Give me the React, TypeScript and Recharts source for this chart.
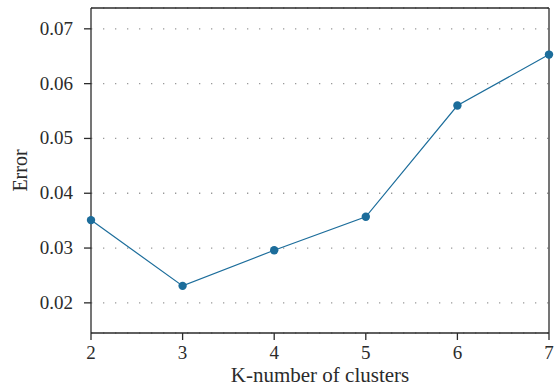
import React from "react";
import {
  LineChart,
  Line,
  XAxis,
  YAxis,
  CartesianGrid,
  ReferenceLine,
} from "recharts";

const clusters = [2, 3, 4, 5, 6, 7];
const errors = [0.0351, 0.0231, 0.0296, 0.0357, 0.056, 0.0653];
const yTicks = [0.02, 0.03, 0.04, 0.05, 0.06, 0.07];
const yMin = 0.0145;
const yMax = 0.0738;

const data = clusters.map((k, i) => ({ k, error: errors[i] }));

const font = "Liberation Serif";
const ink = "#2b2b2b";
const blue = "#1c6d9b";

const XTick = (props: any) => {
  const { x, y, payload } = props;
  return (
    <text
      x={x}
      y={y + 18}
      textAnchor="middle"
      fill={ink}
      fontSize={19}
      fontFamily={font}
    >
      {payload.value}
    </text>
  );
};

const YTick = (props: any) => {
  const { x, y, payload } = props;
  return (
    <text
      x={x}
      y={y + 6}
      textAnchor="end"
      fill={ink}
      fontSize={19}
      fontFamily={font}
    >
      {Number(payload.value).toFixed(2)}
    </text>
  );
};

const App: React.FC = () => {
  return (
    <div
      style={{
        position: "absolute",
        left: 0,
        top: 0,
        width: 556,
        height: 387,
        background: "#fff",
      }}
    >
      <LineChart
        width={556}
        height={387}
        data={data}
        margin={{ top: 8, right: 7, left: 0, bottom: 0 }}
      >
        <CartesianGrid
          vertical={false}
          stroke="#999"
          strokeWidth={1.3}
          strokeDasharray="1.3 10.7"
        />
        <XAxis
          dataKey="k"
          type="number"
          domain={[2, 7]}
          ticks={clusters}
          height={54}
          tickSize={7}
          tickMargin={1}
          stroke={ink}
          strokeWidth={1.3}
          tick={<XTick />}
          label={{
            value: "K-number of clusters",
            position: "insideBottom",
            offset: 5,
            fill: ink,
            fontSize: 21,
            fontFamily: font,
          }}
        />
        <YAxis
          type="number"
          domain={[yMin, yMax]}
          ticks={yTicks}
          width={91}
          tickSize={7}
          tickMargin={11}
          stroke={ink}
          strokeWidth={1.3}
          tick={<YTick />}
          label={{
            value: "Error",
            angle: -90,
            position: "insideLeft",
            offset: 20,
            fill: ink,
            fontSize: 20,
            fontFamily: font,
            style: { textAnchor: "middle" },
          }}
        />
        <ReferenceLine y={yMax} stroke={ink} strokeWidth={1.3} />
        <ReferenceLine x={7} stroke={ink} strokeWidth={1.3} />
        <Line
          dataKey="error"
          stroke={blue}
          strokeWidth={1.2}
          dot={{ r: 4.2, fill: blue, stroke: blue, strokeWidth: 0 }}
          isAnimationActive={false}
        />
      </LineChart>
    </div>
  );
};

export default App;
